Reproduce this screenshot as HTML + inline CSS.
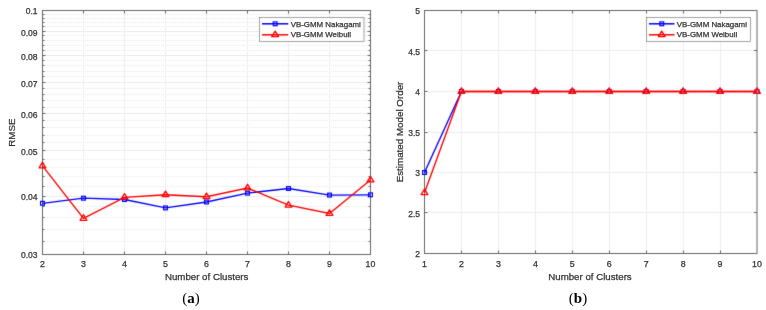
<!DOCTYPE html>
<html><head><meta charset="utf-8"><style>
html,body{margin:0;padding:0;background:#fff;width:766px;height:310px;overflow:hidden}
svg{display:block}
</style></head><body>
<svg width="766" height="310" viewBox="0 0 766 310">
<defs><filter id="b" x="0" y="0" width="1" height="1" color-interpolation-filters="sRGB"><feConvolveMatrix order="3" kernelMatrix="0.01134 0.08382 0.01134 0.08382 0.61935 0.08382 0.01134 0.08382 0.01134" edgeMode="duplicate"/></filter></defs>
<rect width="766" height="310" fill="#fff"/>
<g filter="url(#b)">
<rect width="766" height="310" fill="#fff"/>
<line x1="43.0" x2="370.5" y1="241.50" y2="241.50" stroke="#e9e9e9" stroke-width="1" stroke-dasharray="1 1"/>
<line x1="43.0" x2="370.5" y1="229.50" y2="229.50" stroke="#e9e9e9" stroke-width="1" stroke-dasharray="1 1"/>
<line x1="43.0" x2="370.5" y1="217.50" y2="217.50" stroke="#e9e9e9" stroke-width="1" stroke-dasharray="1 1"/>
<line x1="43.0" x2="370.5" y1="206.50" y2="206.50" stroke="#e9e9e9" stroke-width="1" stroke-dasharray="1 1"/>
<line x1="43.0" x2="370.5" y1="186.50" y2="186.50" stroke="#e9e9e9" stroke-width="1" stroke-dasharray="1 1"/>
<line x1="43.0" x2="370.5" y1="176.50" y2="176.50" stroke="#e9e9e9" stroke-width="1" stroke-dasharray="1 1"/>
<line x1="43.0" x2="370.5" y1="167.50" y2="167.50" stroke="#e9e9e9" stroke-width="1" stroke-dasharray="1 1"/>
<line x1="43.0" x2="370.5" y1="159.50" y2="159.50" stroke="#e9e9e9" stroke-width="1" stroke-dasharray="1 1"/>
<line x1="43.0" x2="370.5" y1="142.50" y2="142.50" stroke="#e9e9e9" stroke-width="1" stroke-dasharray="1 1"/>
<line x1="43.0" x2="370.5" y1="135.50" y2="135.50" stroke="#e9e9e9" stroke-width="1" stroke-dasharray="1 1"/>
<line x1="43.0" x2="370.5" y1="127.50" y2="127.50" stroke="#e9e9e9" stroke-width="1" stroke-dasharray="1 1"/>
<line x1="43.0" x2="370.5" y1="120.50" y2="120.50" stroke="#e9e9e9" stroke-width="1" stroke-dasharray="1 1"/>
<line x1="43.0" x2="370.5" y1="107.50" y2="107.50" stroke="#e9e9e9" stroke-width="1" stroke-dasharray="1 1"/>
<line x1="43.0" x2="370.5" y1="100.50" y2="100.50" stroke="#e9e9e9" stroke-width="1" stroke-dasharray="1 1"/>
<line x1="43.0" x2="370.5" y1="94.50" y2="94.50" stroke="#e9e9e9" stroke-width="1" stroke-dasharray="1 1"/>
<line x1="43.0" x2="370.5" y1="88.50" y2="88.50" stroke="#e9e9e9" stroke-width="1" stroke-dasharray="1 1"/>
<line x1="43.0" x2="370.5" y1="76.50" y2="76.50" stroke="#e9e9e9" stroke-width="1" stroke-dasharray="1 1"/>
<line x1="43.0" x2="370.5" y1="71.50" y2="71.50" stroke="#e9e9e9" stroke-width="1" stroke-dasharray="1 1"/>
<line x1="43.0" x2="370.5" y1="65.50" y2="65.50" stroke="#e9e9e9" stroke-width="1" stroke-dasharray="1 1"/>
<line x1="43.0" x2="370.5" y1="60.50" y2="60.50" stroke="#e9e9e9" stroke-width="1" stroke-dasharray="1 1"/>
<line x1="43.0" x2="370.5" y1="50.50" y2="50.50" stroke="#e9e9e9" stroke-width="1" stroke-dasharray="1 1"/>
<line x1="43.0" x2="370.5" y1="45.50" y2="45.50" stroke="#e9e9e9" stroke-width="1" stroke-dasharray="1 1"/>
<line x1="43.0" x2="370.5" y1="40.50" y2="40.50" stroke="#e9e9e9" stroke-width="1" stroke-dasharray="1 1"/>
<line x1="43.0" x2="370.5" y1="35.50" y2="35.50" stroke="#e9e9e9" stroke-width="1" stroke-dasharray="1 1"/>
<line x1="43.0" x2="370.5" y1="26.50" y2="26.50" stroke="#e9e9e9" stroke-width="1" stroke-dasharray="1 1"/>
<line x1="43.0" x2="370.5" y1="22.50" y2="22.50" stroke="#e9e9e9" stroke-width="1" stroke-dasharray="1 1"/>
<line x1="43.0" x2="370.5" y1="18.50" y2="18.50" stroke="#e9e9e9" stroke-width="1" stroke-dasharray="1 1"/>
<line x1="43.0" x2="370.5" y1="14.50" y2="14.50" stroke="#e9e9e9" stroke-width="1" stroke-dasharray="1 1"/>
<line x1="42.5" x2="370.5" y1="196.50" y2="196.50" stroke="#ebebeb" stroke-width="1"/>
<line x1="42.5" x2="370.5" y1="150.50" y2="150.50" stroke="#ebebeb" stroke-width="1"/>
<line x1="42.5" x2="370.5" y1="113.50" y2="113.50" stroke="#ebebeb" stroke-width="1"/>
<line x1="42.5" x2="370.5" y1="82.50" y2="82.50" stroke="#ebebeb" stroke-width="1"/>
<line x1="42.5" x2="370.5" y1="55.50" y2="55.50" stroke="#ebebeb" stroke-width="1"/>
<line x1="42.5" x2="370.5" y1="31.50" y2="31.50" stroke="#ebebeb" stroke-width="1"/>
<line x1="83.50" x2="83.50" y1="10.5" y2="254.5" stroke="#eeeeee" stroke-width="1"/>
<line x1="124.50" x2="124.50" y1="10.5" y2="254.5" stroke="#eeeeee" stroke-width="1"/>
<line x1="165.50" x2="165.50" y1="10.5" y2="254.5" stroke="#eeeeee" stroke-width="1"/>
<line x1="206.50" x2="206.50" y1="10.5" y2="254.5" stroke="#eeeeee" stroke-width="1"/>
<line x1="247.50" x2="247.50" y1="10.5" y2="254.5" stroke="#eeeeee" stroke-width="1"/>
<line x1="288.50" x2="288.50" y1="10.5" y2="254.5" stroke="#eeeeee" stroke-width="1"/>
<line x1="329.50" x2="329.50" y1="10.5" y2="254.5" stroke="#eeeeee" stroke-width="1"/>
<line x1="461.50" x2="461.50" y1="10.5" y2="253.5" stroke="#eeeeee" stroke-width="1"/>
<line x1="498.50" x2="498.50" y1="10.5" y2="253.5" stroke="#eeeeee" stroke-width="1"/>
<line x1="535.50" x2="535.50" y1="10.5" y2="253.5" stroke="#eeeeee" stroke-width="1"/>
<line x1="572.50" x2="572.50" y1="10.5" y2="253.5" stroke="#eeeeee" stroke-width="1"/>
<line x1="609.50" x2="609.50" y1="10.5" y2="253.5" stroke="#eeeeee" stroke-width="1"/>
<line x1="646.50" x2="646.50" y1="10.5" y2="253.5" stroke="#eeeeee" stroke-width="1"/>
<line x1="683.50" x2="683.50" y1="10.5" y2="253.5" stroke="#eeeeee" stroke-width="1"/>
<line x1="720.50" x2="720.50" y1="10.5" y2="253.5" stroke="#eeeeee" stroke-width="1"/>
<line x1="424.5" x2="757" y1="212.50" y2="212.50" stroke="#ebebeb" stroke-width="1"/>
<line x1="424.5" x2="757" y1="172.50" y2="172.50" stroke="#ebebeb" stroke-width="1"/>
<line x1="424.5" x2="757" y1="132.50" y2="132.50" stroke="#ebebeb" stroke-width="1"/>
<line x1="424.5" x2="757" y1="91.50" y2="91.50" stroke="#ebebeb" stroke-width="1"/>
<line x1="424.5" x2="757" y1="50.50" y2="50.50" stroke="#ebebeb" stroke-width="1"/>
<rect x="42.5" y="10.5" width="328.0" height="244.0" fill="none" stroke="#666666" stroke-width="1"/>
<rect x="424.5" y="10.5" width="332.5" height="243.0" fill="none" stroke="#666666" stroke-width="1"/>
<line x1="83.50" x2="83.50" y1="254.5" y2="251.5" stroke="#666666" stroke-width="1"/>
<line x1="83.50" x2="83.50" y1="10.5" y2="13.5" stroke="#666666" stroke-width="1"/>
<line x1="124.50" x2="124.50" y1="254.5" y2="251.5" stroke="#666666" stroke-width="1"/>
<line x1="124.50" x2="124.50" y1="10.5" y2="13.5" stroke="#666666" stroke-width="1"/>
<line x1="165.50" x2="165.50" y1="254.5" y2="251.5" stroke="#666666" stroke-width="1"/>
<line x1="165.50" x2="165.50" y1="10.5" y2="13.5" stroke="#666666" stroke-width="1"/>
<line x1="206.50" x2="206.50" y1="254.5" y2="251.5" stroke="#666666" stroke-width="1"/>
<line x1="206.50" x2="206.50" y1="10.5" y2="13.5" stroke="#666666" stroke-width="1"/>
<line x1="247.50" x2="247.50" y1="254.5" y2="251.5" stroke="#666666" stroke-width="1"/>
<line x1="247.50" x2="247.50" y1="10.5" y2="13.5" stroke="#666666" stroke-width="1"/>
<line x1="288.50" x2="288.50" y1="254.5" y2="251.5" stroke="#666666" stroke-width="1"/>
<line x1="288.50" x2="288.50" y1="10.5" y2="13.5" stroke="#666666" stroke-width="1"/>
<line x1="329.50" x2="329.50" y1="254.5" y2="251.5" stroke="#666666" stroke-width="1"/>
<line x1="329.50" x2="329.50" y1="10.5" y2="13.5" stroke="#666666" stroke-width="1"/>
<line x1="42.5" x2="45.5" y1="196.50" y2="196.50" stroke="#666666" stroke-width="1"/>
<line x1="370.5" x2="367.5" y1="196.50" y2="196.50" stroke="#666666" stroke-width="1"/>
<line x1="42.5" x2="45.5" y1="150.50" y2="150.50" stroke="#666666" stroke-width="1"/>
<line x1="370.5" x2="367.5" y1="150.50" y2="150.50" stroke="#666666" stroke-width="1"/>
<line x1="42.5" x2="45.5" y1="113.50" y2="113.50" stroke="#666666" stroke-width="1"/>
<line x1="370.5" x2="367.5" y1="113.50" y2="113.50" stroke="#666666" stroke-width="1"/>
<line x1="42.5" x2="45.5" y1="82.50" y2="82.50" stroke="#666666" stroke-width="1"/>
<line x1="370.5" x2="367.5" y1="82.50" y2="82.50" stroke="#666666" stroke-width="1"/>
<line x1="42.5" x2="45.5" y1="55.50" y2="55.50" stroke="#666666" stroke-width="1"/>
<line x1="370.5" x2="367.5" y1="55.50" y2="55.50" stroke="#666666" stroke-width="1"/>
<line x1="42.5" x2="45.5" y1="31.50" y2="31.50" stroke="#666666" stroke-width="1"/>
<line x1="370.5" x2="367.5" y1="31.50" y2="31.50" stroke="#666666" stroke-width="1"/>
<line x1="42.5" x2="44.5" y1="241.50" y2="241.50" stroke="#666666" stroke-width="1"/>
<line x1="370.5" x2="368.5" y1="241.50" y2="241.50" stroke="#666666" stroke-width="1"/>
<line x1="42.5" x2="44.5" y1="229.50" y2="229.50" stroke="#666666" stroke-width="1"/>
<line x1="370.5" x2="368.5" y1="229.50" y2="229.50" stroke="#666666" stroke-width="1"/>
<line x1="42.5" x2="44.5" y1="217.50" y2="217.50" stroke="#666666" stroke-width="1"/>
<line x1="370.5" x2="368.5" y1="217.50" y2="217.50" stroke="#666666" stroke-width="1"/>
<line x1="42.5" x2="44.5" y1="206.50" y2="206.50" stroke="#666666" stroke-width="1"/>
<line x1="370.5" x2="368.5" y1="206.50" y2="206.50" stroke="#666666" stroke-width="1"/>
<line x1="42.5" x2="44.5" y1="186.50" y2="186.50" stroke="#666666" stroke-width="1"/>
<line x1="370.5" x2="368.5" y1="186.50" y2="186.50" stroke="#666666" stroke-width="1"/>
<line x1="42.5" x2="44.5" y1="176.50" y2="176.50" stroke="#666666" stroke-width="1"/>
<line x1="370.5" x2="368.5" y1="176.50" y2="176.50" stroke="#666666" stroke-width="1"/>
<line x1="42.5" x2="44.5" y1="167.50" y2="167.50" stroke="#666666" stroke-width="1"/>
<line x1="370.5" x2="368.5" y1="167.50" y2="167.50" stroke="#666666" stroke-width="1"/>
<line x1="42.5" x2="44.5" y1="159.50" y2="159.50" stroke="#666666" stroke-width="1"/>
<line x1="370.5" x2="368.5" y1="159.50" y2="159.50" stroke="#666666" stroke-width="1"/>
<line x1="42.5" x2="44.5" y1="142.50" y2="142.50" stroke="#666666" stroke-width="1"/>
<line x1="370.5" x2="368.5" y1="142.50" y2="142.50" stroke="#666666" stroke-width="1"/>
<line x1="42.5" x2="44.5" y1="135.50" y2="135.50" stroke="#666666" stroke-width="1"/>
<line x1="370.5" x2="368.5" y1="135.50" y2="135.50" stroke="#666666" stroke-width="1"/>
<line x1="42.5" x2="44.5" y1="127.50" y2="127.50" stroke="#666666" stroke-width="1"/>
<line x1="370.5" x2="368.5" y1="127.50" y2="127.50" stroke="#666666" stroke-width="1"/>
<line x1="42.5" x2="44.5" y1="120.50" y2="120.50" stroke="#666666" stroke-width="1"/>
<line x1="370.5" x2="368.5" y1="120.50" y2="120.50" stroke="#666666" stroke-width="1"/>
<line x1="42.5" x2="44.5" y1="107.50" y2="107.50" stroke="#666666" stroke-width="1"/>
<line x1="370.5" x2="368.5" y1="107.50" y2="107.50" stroke="#666666" stroke-width="1"/>
<line x1="42.5" x2="44.5" y1="100.50" y2="100.50" stroke="#666666" stroke-width="1"/>
<line x1="370.5" x2="368.5" y1="100.50" y2="100.50" stroke="#666666" stroke-width="1"/>
<line x1="42.5" x2="44.5" y1="94.50" y2="94.50" stroke="#666666" stroke-width="1"/>
<line x1="370.5" x2="368.5" y1="94.50" y2="94.50" stroke="#666666" stroke-width="1"/>
<line x1="42.5" x2="44.5" y1="88.50" y2="88.50" stroke="#666666" stroke-width="1"/>
<line x1="370.5" x2="368.5" y1="88.50" y2="88.50" stroke="#666666" stroke-width="1"/>
<line x1="42.5" x2="44.5" y1="76.50" y2="76.50" stroke="#666666" stroke-width="1"/>
<line x1="370.5" x2="368.5" y1="76.50" y2="76.50" stroke="#666666" stroke-width="1"/>
<line x1="42.5" x2="44.5" y1="71.50" y2="71.50" stroke="#666666" stroke-width="1"/>
<line x1="370.5" x2="368.5" y1="71.50" y2="71.50" stroke="#666666" stroke-width="1"/>
<line x1="42.5" x2="44.5" y1="65.50" y2="65.50" stroke="#666666" stroke-width="1"/>
<line x1="370.5" x2="368.5" y1="65.50" y2="65.50" stroke="#666666" stroke-width="1"/>
<line x1="42.5" x2="44.5" y1="60.50" y2="60.50" stroke="#666666" stroke-width="1"/>
<line x1="370.5" x2="368.5" y1="60.50" y2="60.50" stroke="#666666" stroke-width="1"/>
<line x1="42.5" x2="44.5" y1="50.50" y2="50.50" stroke="#666666" stroke-width="1"/>
<line x1="370.5" x2="368.5" y1="50.50" y2="50.50" stroke="#666666" stroke-width="1"/>
<line x1="42.5" x2="44.5" y1="45.50" y2="45.50" stroke="#666666" stroke-width="1"/>
<line x1="370.5" x2="368.5" y1="45.50" y2="45.50" stroke="#666666" stroke-width="1"/>
<line x1="42.5" x2="44.5" y1="40.50" y2="40.50" stroke="#666666" stroke-width="1"/>
<line x1="370.5" x2="368.5" y1="40.50" y2="40.50" stroke="#666666" stroke-width="1"/>
<line x1="42.5" x2="44.5" y1="35.50" y2="35.50" stroke="#666666" stroke-width="1"/>
<line x1="370.5" x2="368.5" y1="35.50" y2="35.50" stroke="#666666" stroke-width="1"/>
<line x1="42.5" x2="44.5" y1="26.50" y2="26.50" stroke="#666666" stroke-width="1"/>
<line x1="370.5" x2="368.5" y1="26.50" y2="26.50" stroke="#666666" stroke-width="1"/>
<line x1="42.5" x2="44.5" y1="22.50" y2="22.50" stroke="#666666" stroke-width="1"/>
<line x1="370.5" x2="368.5" y1="22.50" y2="22.50" stroke="#666666" stroke-width="1"/>
<line x1="42.5" x2="44.5" y1="18.50" y2="18.50" stroke="#666666" stroke-width="1"/>
<line x1="370.5" x2="368.5" y1="18.50" y2="18.50" stroke="#666666" stroke-width="1"/>
<line x1="42.5" x2="44.5" y1="14.50" y2="14.50" stroke="#666666" stroke-width="1"/>
<line x1="370.5" x2="368.5" y1="14.50" y2="14.50" stroke="#666666" stroke-width="1"/>
<line x1="461.50" x2="461.50" y1="253.5" y2="250.5" stroke="#666666" stroke-width="1"/>
<line x1="461.50" x2="461.50" y1="10.5" y2="13.5" stroke="#666666" stroke-width="1"/>
<line x1="498.50" x2="498.50" y1="253.5" y2="250.5" stroke="#666666" stroke-width="1"/>
<line x1="498.50" x2="498.50" y1="10.5" y2="13.5" stroke="#666666" stroke-width="1"/>
<line x1="535.50" x2="535.50" y1="253.5" y2="250.5" stroke="#666666" stroke-width="1"/>
<line x1="535.50" x2="535.50" y1="10.5" y2="13.5" stroke="#666666" stroke-width="1"/>
<line x1="572.50" x2="572.50" y1="253.5" y2="250.5" stroke="#666666" stroke-width="1"/>
<line x1="572.50" x2="572.50" y1="10.5" y2="13.5" stroke="#666666" stroke-width="1"/>
<line x1="609.50" x2="609.50" y1="253.5" y2="250.5" stroke="#666666" stroke-width="1"/>
<line x1="609.50" x2="609.50" y1="10.5" y2="13.5" stroke="#666666" stroke-width="1"/>
<line x1="646.50" x2="646.50" y1="253.5" y2="250.5" stroke="#666666" stroke-width="1"/>
<line x1="646.50" x2="646.50" y1="10.5" y2="13.5" stroke="#666666" stroke-width="1"/>
<line x1="683.50" x2="683.50" y1="253.5" y2="250.5" stroke="#666666" stroke-width="1"/>
<line x1="683.50" x2="683.50" y1="10.5" y2="13.5" stroke="#666666" stroke-width="1"/>
<line x1="720.50" x2="720.50" y1="253.5" y2="250.5" stroke="#666666" stroke-width="1"/>
<line x1="720.50" x2="720.50" y1="10.5" y2="13.5" stroke="#666666" stroke-width="1"/>
<line x1="424.5" x2="427.5" y1="212.50" y2="212.50" stroke="#666666" stroke-width="1"/>
<line x1="757" x2="754" y1="212.50" y2="212.50" stroke="#666666" stroke-width="1"/>
<line x1="424.5" x2="427.5" y1="172.50" y2="172.50" stroke="#666666" stroke-width="1"/>
<line x1="757" x2="754" y1="172.50" y2="172.50" stroke="#666666" stroke-width="1"/>
<line x1="424.5" x2="427.5" y1="132.50" y2="132.50" stroke="#666666" stroke-width="1"/>
<line x1="757" x2="754" y1="132.50" y2="132.50" stroke="#666666" stroke-width="1"/>
<line x1="424.5" x2="427.5" y1="91.50" y2="91.50" stroke="#666666" stroke-width="1"/>
<line x1="757" x2="754" y1="91.50" y2="91.50" stroke="#666666" stroke-width="1"/>
<line x1="424.5" x2="427.5" y1="50.50" y2="50.50" stroke="#666666" stroke-width="1"/>
<line x1="757" x2="754" y1="50.50" y2="50.50" stroke="#666666" stroke-width="1"/>
<polyline points="42.50,203.3 83.50,198.2 124.50,199.5 165.50,207.9 206.50,202 247.50,193.1 288.50,188.5 329.50,195.1 370.50,194.8" fill="none" stroke="#0000ff" stroke-width="1.35"/>
<rect x="40.60" y="201.40" width="3.8" height="3.8" fill="none" stroke="#0000ff" stroke-width="1.2"/>
<rect x="81.60" y="196.30" width="3.8" height="3.8" fill="none" stroke="#0000ff" stroke-width="1.2"/>
<rect x="122.60" y="197.60" width="3.8" height="3.8" fill="none" stroke="#0000ff" stroke-width="1.2"/>
<rect x="163.60" y="206.00" width="3.8" height="3.8" fill="none" stroke="#0000ff" stroke-width="1.2"/>
<rect x="204.60" y="200.10" width="3.8" height="3.8" fill="none" stroke="#0000ff" stroke-width="1.2"/>
<rect x="245.60" y="191.20" width="3.8" height="3.8" fill="none" stroke="#0000ff" stroke-width="1.2"/>
<rect x="286.60" y="186.60" width="3.8" height="3.8" fill="none" stroke="#0000ff" stroke-width="1.2"/>
<rect x="327.60" y="193.20" width="3.8" height="3.8" fill="none" stroke="#0000ff" stroke-width="1.2"/>
<rect x="368.60" y="192.90" width="3.8" height="3.8" fill="none" stroke="#0000ff" stroke-width="1.2"/>
<polyline points="42.50,165.9 83.50,218.4 124.50,197.3 165.50,194.8 206.50,196.7 247.50,188.0 288.50,205.2 329.50,213.5 370.50,180.0" fill="none" stroke="#ff0000" stroke-width="1.35"/>
<path d="M42.50 162.20L45.90 167.80L39.10 167.80Z" fill="none" stroke="#ff0000" stroke-width="1.3" stroke-linejoin="round"/>
<path d="M83.50 214.70L86.90 220.30L80.10 220.30Z" fill="none" stroke="#ff0000" stroke-width="1.3" stroke-linejoin="round"/>
<path d="M124.50 193.60L127.90 199.20L121.10 199.20Z" fill="none" stroke="#ff0000" stroke-width="1.3" stroke-linejoin="round"/>
<path d="M165.50 191.10L168.90 196.70L162.10 196.70Z" fill="none" stroke="#ff0000" stroke-width="1.3" stroke-linejoin="round"/>
<path d="M206.50 193.00L209.90 198.60L203.10 198.60Z" fill="none" stroke="#ff0000" stroke-width="1.3" stroke-linejoin="round"/>
<path d="M247.50 184.30L250.90 189.90L244.10 189.90Z" fill="none" stroke="#ff0000" stroke-width="1.3" stroke-linejoin="round"/>
<path d="M288.50 201.50L291.90 207.10L285.10 207.10Z" fill="none" stroke="#ff0000" stroke-width="1.3" stroke-linejoin="round"/>
<path d="M329.50 209.80L332.90 215.40L326.10 215.40Z" fill="none" stroke="#ff0000" stroke-width="1.3" stroke-linejoin="round"/>
<path d="M370.50 176.30L373.90 181.90L367.10 181.90Z" fill="none" stroke="#ff0000" stroke-width="1.3" stroke-linejoin="round"/>
<polyline points="424.50,172.50 461.44,91.50" fill="none" stroke="#0000ff" stroke-width="1.35"/>
<rect x="422.60" y="170.60" width="3.8" height="3.8" fill="none" stroke="#0000ff" stroke-width="1.2"/>
<rect x="459.54" y="89.60" width="3.8" height="3.8" fill="none" stroke="#0000ff" stroke-width="1.2"/>
<rect x="496.49" y="89.60" width="3.8" height="3.8" fill="none" stroke="#0000ff" stroke-width="1.2"/>
<rect x="533.43" y="89.60" width="3.8" height="3.8" fill="none" stroke="#0000ff" stroke-width="1.2"/>
<rect x="570.38" y="89.60" width="3.8" height="3.8" fill="none" stroke="#0000ff" stroke-width="1.2"/>
<rect x="607.32" y="89.60" width="3.8" height="3.8" fill="none" stroke="#0000ff" stroke-width="1.2"/>
<rect x="644.27" y="89.60" width="3.8" height="3.8" fill="none" stroke="#0000ff" stroke-width="1.2"/>
<rect x="681.21" y="89.60" width="3.8" height="3.8" fill="none" stroke="#0000ff" stroke-width="1.2"/>
<rect x="718.16" y="89.60" width="3.8" height="3.8" fill="none" stroke="#0000ff" stroke-width="1.2"/>
<rect x="755.10" y="89.60" width="3.8" height="3.8" fill="none" stroke="#0000ff" stroke-width="1.2"/>
<polyline points="424.50,192.75 461.44,91.50 498.39,91.50 535.33,91.50 572.28,91.50 609.22,91.50 646.17,91.50 683.11,91.50 720.06,91.50 757.00,91.50" fill="none" stroke="#ff0000" stroke-width="1.35"/>
<line x1="461.44" x2="757.00" y1="91.50" y2="91.50" stroke="#ff0000" stroke-width="1.5"/>
<path d="M424.50 189.05L427.90 194.65L421.10 194.65Z" fill="none" stroke="#ff0000" stroke-width="1.3" stroke-linejoin="round"/>
<path d="M461.44 87.80L464.84 93.40L458.04 93.40Z" fill="none" stroke="#ff0000" stroke-width="1.3" stroke-linejoin="round"/>
<path d="M498.39 87.80L501.79 93.40L494.99 93.40Z" fill="none" stroke="#ff0000" stroke-width="1.3" stroke-linejoin="round"/>
<path d="M535.33 87.80L538.73 93.40L531.93 93.40Z" fill="none" stroke="#ff0000" stroke-width="1.3" stroke-linejoin="round"/>
<path d="M572.28 87.80L575.68 93.40L568.88 93.40Z" fill="none" stroke="#ff0000" stroke-width="1.3" stroke-linejoin="round"/>
<path d="M609.22 87.80L612.62 93.40L605.82 93.40Z" fill="none" stroke="#ff0000" stroke-width="1.3" stroke-linejoin="round"/>
<path d="M646.17 87.80L649.57 93.40L642.77 93.40Z" fill="none" stroke="#ff0000" stroke-width="1.3" stroke-linejoin="round"/>
<path d="M683.11 87.80L686.51 93.40L679.71 93.40Z" fill="none" stroke="#ff0000" stroke-width="1.3" stroke-linejoin="round"/>
<path d="M720.06 87.80L723.46 93.40L716.66 93.40Z" fill="none" stroke="#ff0000" stroke-width="1.3" stroke-linejoin="round"/>
<path d="M757.00 87.80L760.40 93.40L753.60 93.40Z" fill="none" stroke="#ff0000" stroke-width="1.3" stroke-linejoin="round"/>
<rect x="259.5" y="17.5" width="104.5" height="24.0" fill="#fff" stroke="#666666" stroke-width="0.6"/>
<line x1="262" x2="288.3" y1="23.8" y2="23.8" stroke="#0000ff" stroke-width="1.5"/>
<rect x="273.25" y="21.90" width="3.8" height="3.8" fill="none" stroke="#0000ff" stroke-width="1.2"/>
<line x1="262" x2="288.3" y1="34.8" y2="34.8" stroke="#ff0000" stroke-width="1.5"/>
<path d="M275.15 31.10L278.55 36.70L271.75 36.70Z" fill="none" stroke="#ff0000" stroke-width="1.3" stroke-linejoin="round"/>
<rect x="646.5" y="17.5" width="104.0" height="24.0" fill="#fff" stroke="#666666" stroke-width="0.6"/>
<line x1="649" x2="674.5" y1="23.8" y2="23.8" stroke="#0000ff" stroke-width="1.5"/>
<rect x="659.85" y="21.90" width="3.8" height="3.8" fill="none" stroke="#0000ff" stroke-width="1.2"/>
<line x1="649" x2="674.5" y1="34.8" y2="34.8" stroke="#ff0000" stroke-width="1.5"/>
<path d="M661.75 31.10L665.15 36.70L658.35 36.70Z" fill="none" stroke="#ff0000" stroke-width="1.3" stroke-linejoin="round"/>
</g>
<text x="42.50" y="266.7" font-size="8.8" text-anchor="middle" fill="#333333" font-family="'Liberation Sans', Arial, sans-serif" stroke="#333" stroke-width="0.25">2</text>
<text x="83.50" y="266.7" font-size="8.8" text-anchor="middle" fill="#333333" font-family="'Liberation Sans', Arial, sans-serif" stroke="#333" stroke-width="0.25">3</text>
<text x="124.50" y="266.7" font-size="8.8" text-anchor="middle" fill="#333333" font-family="'Liberation Sans', Arial, sans-serif" stroke="#333" stroke-width="0.25">4</text>
<text x="165.50" y="266.7" font-size="8.8" text-anchor="middle" fill="#333333" font-family="'Liberation Sans', Arial, sans-serif" stroke="#333" stroke-width="0.25">5</text>
<text x="206.50" y="266.7" font-size="8.8" text-anchor="middle" fill="#333333" font-family="'Liberation Sans', Arial, sans-serif" stroke="#333" stroke-width="0.25">6</text>
<text x="247.50" y="266.7" font-size="8.8" text-anchor="middle" fill="#333333" font-family="'Liberation Sans', Arial, sans-serif" stroke="#333" stroke-width="0.25">7</text>
<text x="288.50" y="266.7" font-size="8.8" text-anchor="middle" fill="#333333" font-family="'Liberation Sans', Arial, sans-serif" stroke="#333" stroke-width="0.25">8</text>
<text x="329.50" y="266.7" font-size="8.8" text-anchor="middle" fill="#333333" font-family="'Liberation Sans', Arial, sans-serif" stroke="#333" stroke-width="0.25">9</text>
<text x="370.50" y="266.7" font-size="8.8" text-anchor="middle" fill="#333333" font-family="'Liberation Sans', Arial, sans-serif" stroke="#333" stroke-width="0.25">10</text>
<text x="424.50" y="266.7" font-size="8.8" text-anchor="middle" fill="#333333" font-family="'Liberation Sans', Arial, sans-serif" stroke="#333" stroke-width="0.25">1</text>
<text x="461.44" y="266.7" font-size="8.8" text-anchor="middle" fill="#333333" font-family="'Liberation Sans', Arial, sans-serif" stroke="#333" stroke-width="0.25">2</text>
<text x="498.39" y="266.7" font-size="8.8" text-anchor="middle" fill="#333333" font-family="'Liberation Sans', Arial, sans-serif" stroke="#333" stroke-width="0.25">3</text>
<text x="535.33" y="266.7" font-size="8.8" text-anchor="middle" fill="#333333" font-family="'Liberation Sans', Arial, sans-serif" stroke="#333" stroke-width="0.25">4</text>
<text x="572.28" y="266.7" font-size="8.8" text-anchor="middle" fill="#333333" font-family="'Liberation Sans', Arial, sans-serif" stroke="#333" stroke-width="0.25">5</text>
<text x="609.22" y="266.7" font-size="8.8" text-anchor="middle" fill="#333333" font-family="'Liberation Sans', Arial, sans-serif" stroke="#333" stroke-width="0.25">6</text>
<text x="646.17" y="266.7" font-size="8.8" text-anchor="middle" fill="#333333" font-family="'Liberation Sans', Arial, sans-serif" stroke="#333" stroke-width="0.25">7</text>
<text x="683.11" y="266.7" font-size="8.8" text-anchor="middle" fill="#333333" font-family="'Liberation Sans', Arial, sans-serif" stroke="#333" stroke-width="0.25">8</text>
<text x="720.06" y="266.7" font-size="8.8" text-anchor="middle" fill="#333333" font-family="'Liberation Sans', Arial, sans-serif" stroke="#333" stroke-width="0.25">9</text>
<text x="757.00" y="266.7" font-size="8.8" text-anchor="middle" fill="#333333" font-family="'Liberation Sans', Arial, sans-serif" stroke="#333" stroke-width="0.25">10</text>
<text x="37.5" y="258.08" font-size="8.5" text-anchor="end" fill="#333333" font-family="'Liberation Sans', Arial, sans-serif" stroke="#333" stroke-width="0.25">0.03</text>
<text x="37.5" y="200.44" font-size="8.5" text-anchor="end" fill="#333333" font-family="'Liberation Sans', Arial, sans-serif" stroke="#333" stroke-width="0.25">0.04</text>
<text x="37.5" y="155.11" font-size="8.5" text-anchor="end" fill="#333333" font-family="'Liberation Sans', Arial, sans-serif" stroke="#333" stroke-width="0.25">0.05</text>
<text x="37.5" y="118.07" font-size="8.5" text-anchor="end" fill="#333333" font-family="'Liberation Sans', Arial, sans-serif" stroke="#333" stroke-width="0.25">0.06</text>
<text x="37.5" y="86.76" font-size="8.5" text-anchor="end" fill="#333333" font-family="'Liberation Sans', Arial, sans-serif" stroke="#333" stroke-width="0.25">0.07</text>
<text x="37.5" y="59.64" font-size="8.5" text-anchor="end" fill="#333333" font-family="'Liberation Sans', Arial, sans-serif" stroke="#333" stroke-width="0.25">0.08</text>
<text x="37.5" y="35.71" font-size="8.5" text-anchor="end" fill="#333333" font-family="'Liberation Sans', Arial, sans-serif" stroke="#333" stroke-width="0.25">0.09</text>
<text x="37.5" y="14.31" font-size="8.5" text-anchor="end" fill="#333333" font-family="'Liberation Sans', Arial, sans-serif" stroke="#333" stroke-width="0.25">0.1</text>
<text x="420" y="257.20" font-size="8.5" text-anchor="end" fill="#333333" font-family="'Liberation Sans', Arial, sans-serif" stroke="#333" stroke-width="0.25">2</text>
<text x="420" y="216.70" font-size="8.5" text-anchor="end" fill="#333333" font-family="'Liberation Sans', Arial, sans-serif" stroke="#333" stroke-width="0.25">2.5</text>
<text x="420" y="176.20" font-size="8.5" text-anchor="end" fill="#333333" font-family="'Liberation Sans', Arial, sans-serif" stroke="#333" stroke-width="0.25">3</text>
<text x="420" y="135.70" font-size="8.5" text-anchor="end" fill="#333333" font-family="'Liberation Sans', Arial, sans-serif" stroke="#333" stroke-width="0.25">3.5</text>
<text x="420" y="95.20" font-size="8.5" text-anchor="end" fill="#333333" font-family="'Liberation Sans', Arial, sans-serif" stroke="#333" stroke-width="0.25">4</text>
<text x="420" y="54.70" font-size="8.5" text-anchor="end" fill="#333333" font-family="'Liberation Sans', Arial, sans-serif" stroke="#333" stroke-width="0.25">4.5</text>
<text x="420" y="14.20" font-size="8.5" text-anchor="end" fill="#333333" font-family="'Liberation Sans', Arial, sans-serif" stroke="#333" stroke-width="0.25">5</text>
<text x="206.7" y="279.9" font-size="9.7" text-anchor="middle" fill="#333333" font-family="'Liberation Sans', Arial, sans-serif" stroke="#333" stroke-width="0.25">Number of Clusters</text>
<text x="590" y="279.9" font-size="9.7" text-anchor="middle" fill="#333333" font-family="'Liberation Sans', Arial, sans-serif" stroke="#333" stroke-width="0.25">Number of Clusters</text>
<text transform="translate(15.2,132.6) rotate(-90)" font-size="9.8" text-anchor="middle" fill="#333333" font-family="'Liberation Sans', Arial, sans-serif" stroke="#333" stroke-width="0.25">RMSE</text>
<text transform="translate(402.5,132) rotate(-90)" font-size="9.8" text-anchor="middle" fill="#333333" font-family="'Liberation Sans', Arial, sans-serif" stroke="#333" stroke-width="0.25">Estimated Model Order</text>
<text x="290.7" y="26.60" font-size="7.9" fill="#333333" font-family="'Liberation Sans', Arial, sans-serif" stroke="#333" stroke-width="0.25">VB-GMM Nakagami</text>
<text x="290.7" y="37.10" font-size="7.9" fill="#333333" font-family="'Liberation Sans', Arial, sans-serif" stroke="#333" stroke-width="0.25">VB-GMM Weibull</text>
<text x="676.8" y="26.60" font-size="7.9" fill="#333333" font-family="'Liberation Sans', Arial, sans-serif" stroke="#333" stroke-width="0.25">VB-GMM Nakagami</text>
<text x="676.8" y="37.10" font-size="7.9" fill="#333333" font-family="'Liberation Sans', Arial, sans-serif" stroke="#333" stroke-width="0.25">VB-GMM Weibull</text>
<text x="191" y="302.5" font-size="15" text-anchor="middle" fill="#000" font-family="'Liberation Serif', 'Times New Roman', serif">(<tspan font-weight="bold">a</tspan>)</text>
<text x="578" y="302.5" font-size="15" text-anchor="middle" fill="#000" font-family="'Liberation Serif', 'Times New Roman', serif">(<tspan font-weight="bold">b</tspan>)</text>
</svg>
</body></html>
